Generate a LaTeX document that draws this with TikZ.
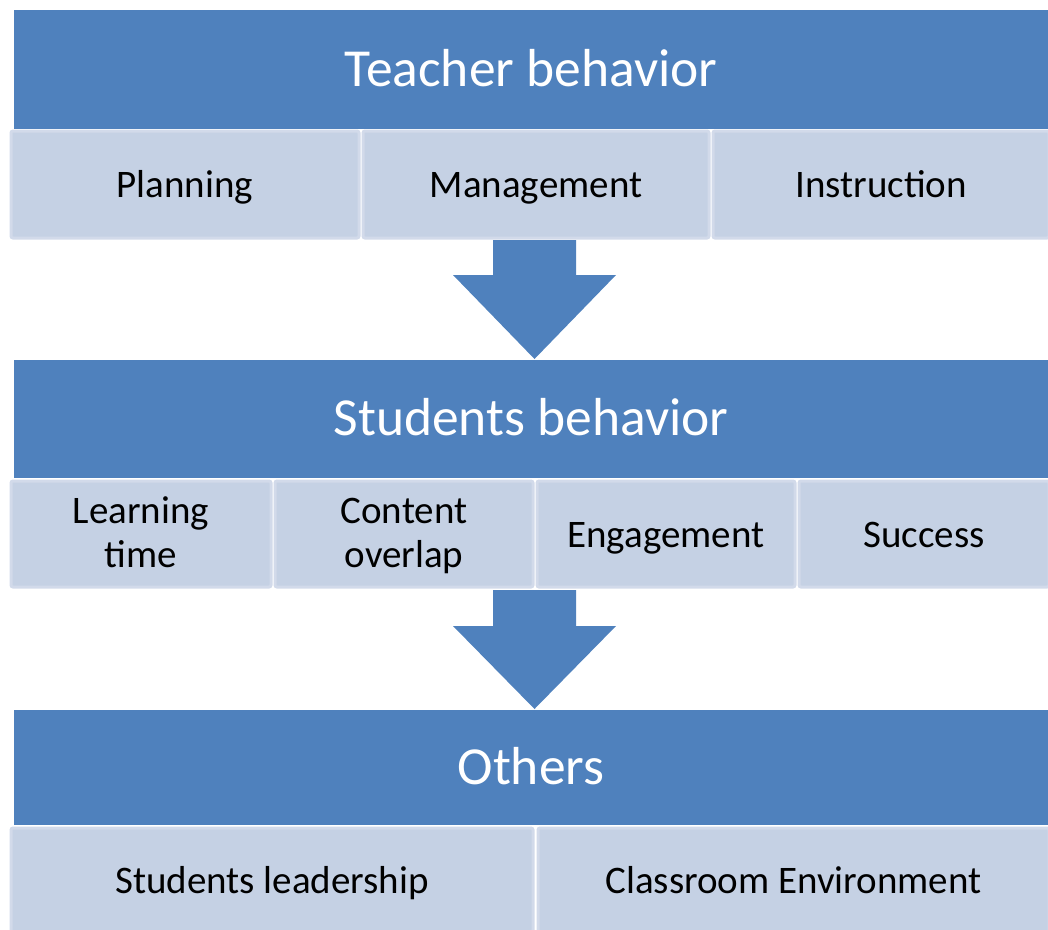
\documentclass[tikz,border=0pt]{standalone}
\usepackage{fontspec}
\setmainfont{Carlito}
\definecolor{bandblue}{HTML}{4F81BD}
\definecolor{cellfill}{HTML}{C5D1E4}
\definecolor{cellline}{HTML}{D2DAEA}
\begin{document}
\begin{tikzpicture}[x=1pt,y=-1pt]
				\tikzstyle{band}=[fill=bandblue,inner sep=0pt,minimum width=1034pt,text=white,
				text height=44pt,text depth=11pt,font=\fontsize{53.5}{58}\selectfont]
				\tikzstyle{cell}=[fill=cellfill,draw=cellline,line width=3pt,rounded corners=2pt,
				inner sep=0pt,minimum height=107pt,align=center,text height=34pt,text depth=8pt,
				font=\fontsize{39}{44}\selectfont]
				\tikzstyle{twolines}=[text height=74pt]
				\tikzstyle{blockarrow}=[fill=bandblue]
				\useasboundingbox (0,0) rectangle (1048,929);
				% first level
				\node[band,minimum height=119pt] (teacher) at (531,69.5) {Teacher behavior};
				\node[cell,minimum width=348pt] (planning) at (185,184.5) {Planning};
				\node[cell,minimum width=346pt] (management) at (536,184.5) {Management};
				\node[cell,minimum width=336pt] (instruction) at (881,184.5) {Instruction};
				% second level
				\node[band,minimum height=118pt] (students) at (531,419) {Students behavior};
				\node[cell,twolines,minimum width=260pt,minimum height=106pt] (learning) at (141,534) {Learning\\time};
				\node[cell,twolines,minimum width=258pt,minimum height=106pt] (overlap) at (404,534) {Content\\overlap};
				\node[cell,minimum width=258pt,minimum height=106pt] (engagement) at (666,534) {Engagement};
				\node[cell,minimum width=250pt,minimum height=106pt] (success) at (924,534) {Success};
				% third level
				\node[band,minimum height=115pt] (others) at (531,767.5) {Others};
				\node[cell,minimum width=522pt,minimum height=104pt] (leadership) at (272,880) {Students leadership};
				\node[cell,minimum width=511pt,minimum height=104pt] (environment) at (793.5,880) {Classroom Environment};
				% arrows
				\fill[blockarrow] (493,240) -- (576,240) -- (576,275) -- (616,275) -- (534.5,359)
					-- (453,275) -- (493,275) -- cycle;
				\fill[blockarrow] (493,590) -- (576,590) -- (576,626) -- (616,626) -- (534.5,709)
					-- (453,626) -- (493,626) -- cycle;
\end{tikzpicture}
\end{document}
